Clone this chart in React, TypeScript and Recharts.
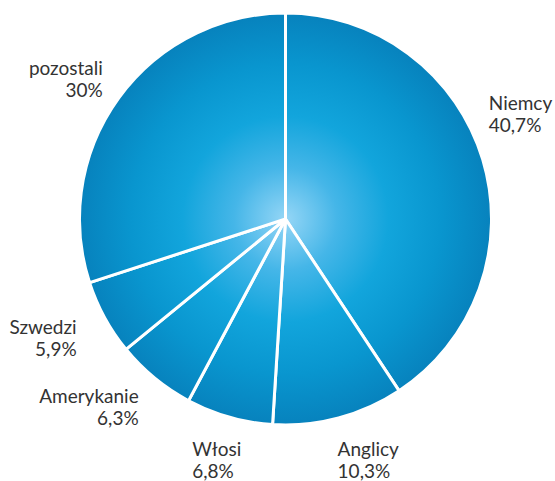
import { PieChart, Pie, Cell } from 'recharts'

document.body.style.margin = '0'

const NAMES = ['Niemcy', 'Anglicy', 'Włosi', 'Amerykanie', 'Szwedzi', 'pozostali']
const VALUES = [40.7, 10.3, 6.8, 6.3, 5.9, 30]
const VALUE_LABELS = ['40,7%', '10,3%', '6,8%', '6,3%', '5,9%', '30%']

// label nudges from the slice's outer edge point (dx, dy to first baseline)
const LABEL_NUDGE: { dx: number; dy: number; anchor: 'start' | 'end' }[] = [
  { dx: 6,   dy: -50, anchor: 'start' },
  { dx: -1,  dy: 38,  anchor: 'start' },
  { dx: -37, dy: 39,  anchor: 'start' },
  { dx: -16, dy: 25,  anchor: 'end'   },
  { dx: -28, dy: 16,  anchor: 'end'   },
  { dx: -16, dy: -23, anchor: 'end'   },
]

const CX = 285.5
const CY = 219
const R = 206
const RAD = Math.PI / 180

const data = NAMES.map((name, i) => ({ name, value: VALUES[i] }))

function renderLabel(props: any) {
  const { cx, cy, midAngle, outerRadius, index } = props
  const x = cx + outerRadius * Math.cos(-midAngle * RAD)
  const y = cy + outerRadius * Math.sin(-midAngle * RAD)
  const n = LABEL_NUDGE[index]
  const tx = x + n.dx
  const ty = y + n.dy
  return (
    <text
      x={tx}
      y={ty}
      textAnchor={n.anchor}
      fill="#333333"
      fontSize={19}
      fontFamily="Lato, sans-serif"
    >
      <tspan x={tx} y={ty}>{NAMES[index]}</tspan>
      <tspan x={tx} y={ty + 22}>{VALUE_LABELS[index]}</tspan>
    </text>
  )
}

export default function App() {
  return (
    <div style={{ width: 555, height: 481, background: '#fff' }}>
      <PieChart width={555} height={481} margin={{ top: 0, right: 0, bottom: 0, left: 0 }}>
        <defs>
          <radialGradient id="pieFill" gradientUnits="userSpaceOnUse" cx={CX} cy={CY} r={R}>
            <stop offset="0%" stopColor="#95d6f6" />
            <stop offset="25%" stopColor="#45b6e8" />
            <stop offset="50%" stopColor="#12a5dc" />
            <stop offset="75%" stopColor="#0996cf" />
            <stop offset="100%" stopColor="#0782bd" />
          </radialGradient>
        </defs>
        <Pie
          data={data}
          dataKey="value"
          nameKey="name"
          cx={CX}
          cy={CY}
          outerRadius={R}
          startAngle={90}
          endAngle={-270}
          stroke="#ffffff"
          strokeWidth={3}
          label={renderLabel}
          labelLine={false}
          isAnimationActive={false}
        >
          {data.map((d) => (
            <Cell key={d.name} fill="url(#pieFill)" />
          ))}
        </Pie>
      </PieChart>
    </div>
  )
}
